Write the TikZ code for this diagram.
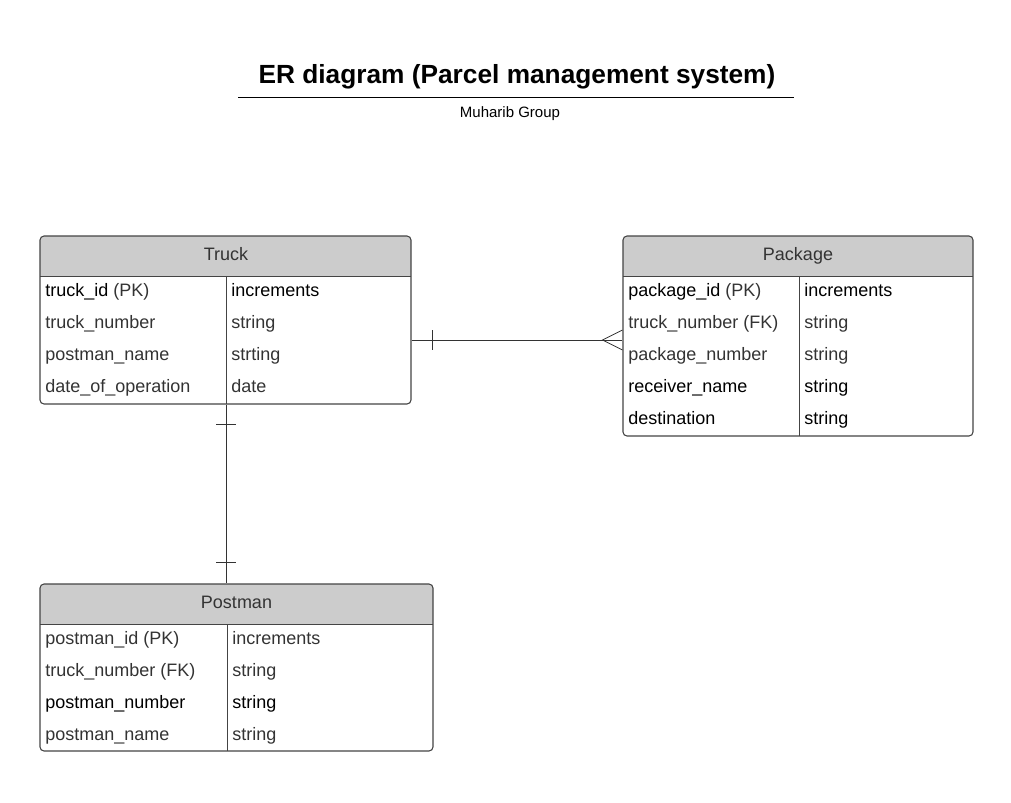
\documentclass[tikz,border=0pt]{standalone}
\usepackage{fontspec}
\setmainfont{Liberation Sans}
\definecolor{txtgray}{HTML}{333333}
\definecolor{hdrfill}{HTML}{CCCCCC}
\definecolor{bordercol}{HTML}{444444}
\begin{document}
\begin{tikzpicture}[x=0.75pt,y=-0.75pt,
  entity/.style={draw=bordercol,line width=0.8pt,rounded corners=3pt,inner sep=0pt},
  divider/.style={draw=bordercol,line width=0.7pt},
  hdrtext/.style={anchor=base,text=txtgray,font=\fontsize{13.5}{16}\selectfont,inner sep=0pt},
  cell/.style={anchor=base west,font=\fontsize{13.5}{16}\selectfont,inner sep=0pt},
  dk/.style={text=black},
  lt/.style={text=txtgray},
  conn/.style={draw=txtgray,line width=0.6pt}]
\useasboundingbox (0,0) rectangle (1011,803);

% Title
\node[anchor=base,inner sep=0pt,font=\fontsize{19.7}{22}\bfseries\selectfont] (title) at (517,83.5) {ER diagram (Parcel management system)};
\draw[line width=1.4pt] (238,97.5) coordinate (tl) -- (794,97.5) coordinate (tr);
\node[anchor=base,inner sep=0pt,font=\fontsize{11.25}{13}\selectfont] (sub) at (510,117.5) {Muharib Group};

% ---------- Truck ----------
\fill[hdrfill,rounded corners=3pt] (40,236) rectangle (411,276);
\fill[hdrfill] (40,256) rectangle (411,276);
\draw[divider] (40,276) -- (411,276);
\draw[divider] (226,276) -- (226,404);
\node[entity,minimum width=371*0.75pt,minimum height=168*0.75pt] (truck) at (225.5,320) {};
\node[hdrtext] (truckh) at (226,260) {Truck};
\node[cell,dk] (t1a) at (45,296.5) {truck\_id \textcolor{txtgray}{(PK)}};
\node[cell,dk] (t1b) at (231,296.5) {increments};
\node[cell,lt] (t2a) at (45,328.5) {truck\_number};
\node[cell,lt] (t2b) at (231,328.5) {string};
\node[cell,lt] (t3a) at (45,360.5) {postman\_name};
\node[cell,lt] (t3b) at (231,360.5) {strting};
\node[cell,lt] (t4a) at (45,392.5) {date\_of\_operation};
\node[cell,lt] (t4b) at (231,392.5) {date};

% ---------- Package ----------
\fill[hdrfill,rounded corners=3pt] (623,236) rectangle (973,276);
\fill[hdrfill] (623,256) rectangle (973,276);
\draw[divider] (623,276) -- (973,276);
\draw[divider] (799,276) -- (799,436);
\node[entity,minimum width=350*0.75pt,minimum height=200*0.75pt] (package) at (798,336) {};
\node[hdrtext] (packageh) at (798,260) {Package};
\node[cell,dk] (p1a) at (628,296.5) {package\_id \textcolor{txtgray}{(PK)}};
\node[cell,dk] (p1b) at (804,296.5) {increments};
\node[cell,lt] (p2a) at (628,328.5) {truck\_number (FK)};
\node[cell,lt] (p2b) at (804,328.5) {string};
\node[cell,lt] (p3a) at (628,360.5) {package\_number};
\node[cell,lt] (p3b) at (804,360.5) {string};
\node[cell,dk] (p4a) at (628,392.5) {receiver\_name};
\node[cell,dk] (p4b) at (804,392.5) {string};
\node[cell,dk] (p5a) at (628,424.5) {destination};
\node[cell,dk] (p5b) at (804,424.5) {string};

% ---------- Postman ----------
\fill[hdrfill,rounded corners=3pt] (40,584) rectangle (433,624);
\fill[hdrfill] (40,604) rectangle (433,624);
\draw[divider] (40,624) -- (433,624);
\draw[divider] (227,624) -- (227,751);
\node[entity,minimum width=393*0.75pt,minimum height=167*0.75pt] (postman) at (236.5,667.5) {};
\node[hdrtext] (postmanh) at (236.5,608) {Postman};
\node[cell,lt] (m1a) at (45,644.5) {postman\_id (PK)};
\node[cell,lt] (m1b) at (232,644.5) {increments};
\node[cell,lt] (m2a) at (45,676.5) {truck\_number (FK)};
\node[cell,lt] (m2b) at (232,676.5) {string};
\node[cell,dk] (m3a) at (45,708.5) {postman\_number};
\node[cell,dk] (m3b) at (232,708.5) {string};
\node[cell,lt] (m4a) at (45,740.5) {postman\_name};
\node[cell,lt] (m4b) at (232,740.5) {string};

% ---------- Connectors ----------
\coordinate (tpA) at (truck.east |- 0,340);
\coordinate (tpB) at (package.west |- 0,340);
\draw[conn] (tpA) -- (tpB);
\draw[conn] ([xshift=21*0.75pt]tpA) ++(0,-10) -- ++(0,20);
\draw[conn] ([yshift=10*0.75pt]tpB) -- ([xshift=-20*0.75pt]tpB) -- ([yshift=-10*0.75pt]tpB);

\coordinate (tmA) at (truck.south -| 226,0);
\coordinate (tmB) at (postman.north -| 226,0);
\draw[conn] (tmA) -- (tmB);
\draw[conn] ([yshift=-20*0.75pt]tmA) ++(-10,0) -- ++(20,0);
\draw[conn] ([yshift=21*0.75pt]tmB) ++(-10,0) -- ++(20,0);
\end{tikzpicture}
\end{document}
